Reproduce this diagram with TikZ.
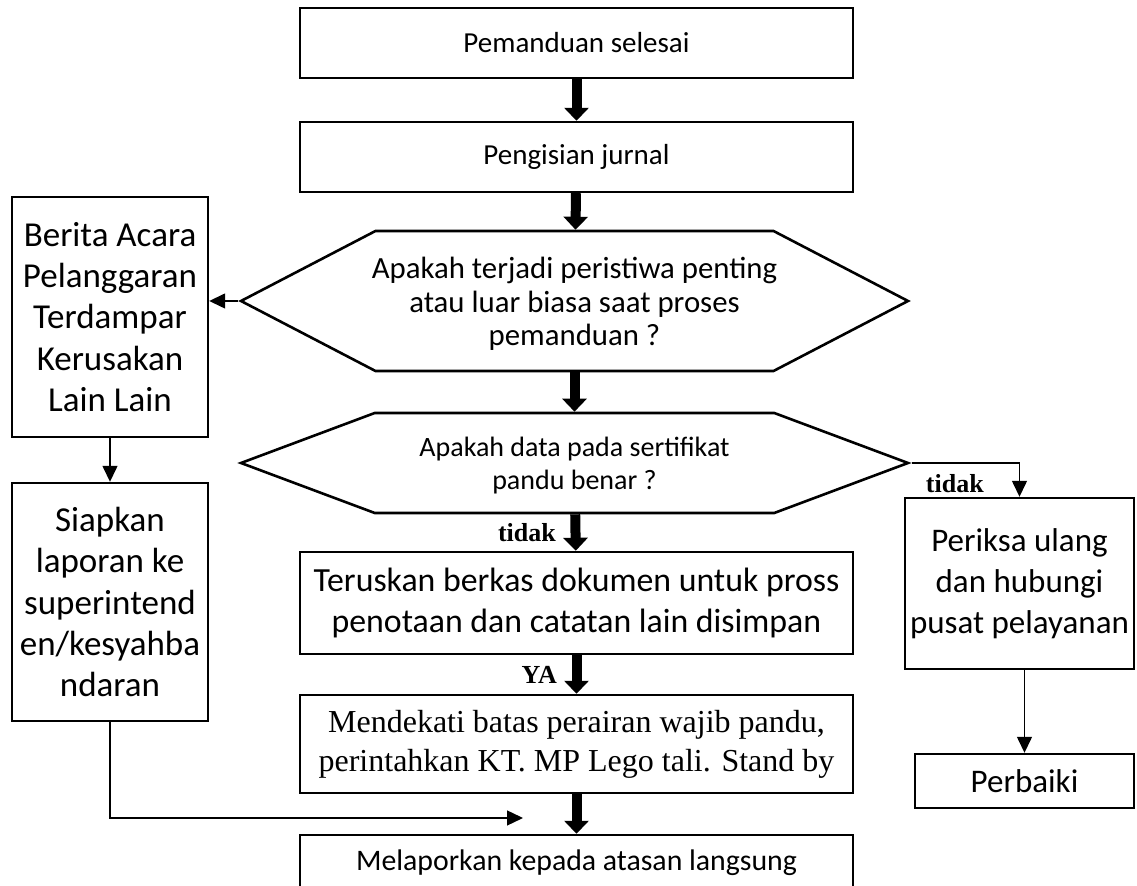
\documentclass[tikz,border=0pt]{standalone}
\usepackage{fontspec}
\setmainfont{Carlito}
\newfontfamily\tnr{Liberation Serif}
\usetikzlibrary{shapes.symbols, arrows.meta, positioning}

\begin{document}
\begin{tikzpicture}[x=0.5pt, y=-0.5pt,
    process/.style={rectangle, draw=black, line width=1.2pt, align=center, inner sep=2pt, font=\fontsize{14.5}{20.5}\selectfont},
    bigtext/.style={font=\fontsize{16.5}{20.5}\selectfont},
    sidetext/.style={font=\fontsize{17.5}{20.7}\selectfont},
    decision/.style={signal, signal to=east and west, draw=black, line width=1.3pt, minimum width=333.5pt},
    hextext/.style={align=center, yshift=-1.5pt, font=\fontsize{14}{16.5}\selectfont},
    bigarrow/.style={draw, line width=5pt, -{Triangle[width=12pt, length=6.5pt]}},
    flow/.style={draw, line width=0.7pt, -{Triangle[width=7.5pt, length=8pt]}},
    answer/.style={font=\tnr\bfseries\fontsize{13}{15}\selectfont}
]
\useasboundingbox (0,0) rectangle (1137,886);
\clip (0,0) rectangle (1137,886);

% Main column
\node[process, minimum width=276.5pt, minimum height=35pt] (done) at (576.5,43) {Pemanduan selesai};
\node[process, minimum width=276.5pt, minimum height=35pt] (journal) at (576.5,157) {Pengisian jurnal};
\node[decision, minimum height=70pt, signal pointer angle=55,
      label={[hextext, font=\fontsize{15.4}{16.7}\selectfont]center:{Apakah terjadi peristiwa penting\\atau luar biasa saat proses\\pemanduan ?}}] (eventq) at (574.5,301) {};
\node[decision, minimum height=50pt, signal pointer angle=41,
      label={[hextext]center:{Apakah data pada sertifikat\\pandu benar ?}}] (certq) at (574.5,463) {};
\node[process, minimum width=276.5pt, minimum height=51pt, font=\fontsize{16.9}{20.5}\selectfont] (forward) at (576.5,603) {Teruskan berkas dokumen untuk pross\\penotaan dan catatan lain disimpan};
\node[process, minimum width=276.5pt, minimum height=49pt, font=\tnr\fontsize{16}{19.5}\selectfont] (approach) at (576.5,744) {Mendekati batas perairan wajib pandu,\\perintahkan KT. MP Lego tali. Stand by};
\node[process, minimum width=276.5pt, minimum height=28pt, font=\fontsize{14.9}{20.5}\selectfont] (report) at (576.5,863) {Melaporkan kepada atasan langsung};

% Side boxes
\node[process, sidetext, minimum width=98pt, minimum height=120pt] (minutes) at (110,317) {Berita Acara\\Pelanggaran\\Terdampar\\Kerusakan\\Lain Lain};
\node[process, sidetext, minimum width=98pt, minimum height=119pt] (prepare) at (110,602) {Siapkan\\laporan ke\\superintend\\en/kesyahba\\ndaran};
\node[process, bigtext, minimum width=114.5pt, minimum height=85.5pt] (recheck) at (1019.5,583.5) {Periksa ulang\\dan hubungi\\pusat pelayanan};
\node[process, bigtext, minimum width=109.5pt, minimum height=27pt] (fix) at (1024.5,781) {Perbaiki};

% Connections
\draw[bigarrow] (done) -- (journal);
\draw[bigarrow] (journal) -- (eventq);
\draw[bigarrow] (eventq) -- (certq);
\draw[bigarrow] (certq) -- node[answer, left=4pt] {tidak} (forward);
\draw[bigarrow] (forward) -- node[answer, left=4pt] {YA} (approach);
\draw[bigarrow] (approach) -- (report);
\draw[flow] (eventq.west) -- (eventq.west -| minutes.east);
\draw[flow] (minutes) -- (prepare);
\coordinate (joinpt) at (523,818);
\draw[flow] (prepare.south) |- (joinpt);
\draw[flow] (certq.east) -| node[answer, pos=0.2, below=2pt] {tidak} (recheck.north);
\draw[flow] (recheck.south -| fix.north) -- (fix.north);

\end{tikzpicture}
\end{document}
